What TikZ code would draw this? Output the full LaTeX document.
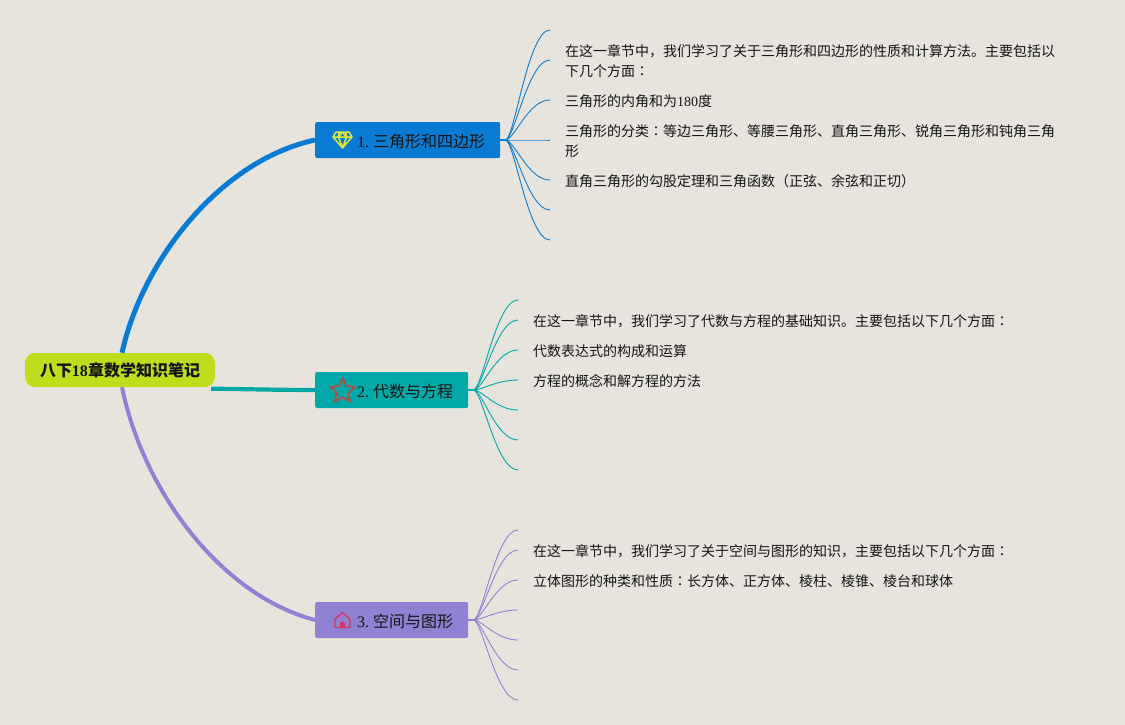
\documentclass[tikz,border=0pt]{standalone}
\usepackage{fontspec}
\setmainfont{Noto Sans CJK SC}
\newfontfamily\latn{Liberation Serif}
\newfontfamily\jpcolon{Noto Sans CJK JP}
\newcommand{\midcolon}{{\jpcolon ：}}
\usetikzlibrary{positioning,shapes.geometric}

\definecolor{paper}{HTML}{E7E4DD}
\definecolor{rootgreen}{HTML}{C0DD1B}
\definecolor{blueA}{HTML}{0A7BD2}
\definecolor{tealB}{HTML}{00A8A8}
\definecolor{purpleC}{HTML}{9181D3}
\definecolor{gemyellow}{HTML}{E4E83A}
\definecolor{starbrown}{HTML}{A8524A}
\definecolor{housepink}{HTML}{D8305F}

\begin{document}
\begin{tikzpicture}[x=1pt,y=-1pt]
  \tikzstyle{every node}=[text=black!92]
  \tikzstyle{rootbox}=[fill=rootgreen,rounded corners=10pt,minimum width=190pt,
                       minimum height=34pt,inner sep=0pt,font=\fontsize{16}{16}\selectfont\bfseries]
  \tikzstyle{topic}=[rounded corners=2pt,minimum height=36pt,inner sep=0pt,text height=14pt,
                     text depth=0pt,anchor=west,font=\fontsize{16}{16}\selectfont]
  \tikzstyle{leaf}=[inner sep=0pt,yshift=-1pt,align=left,font=\fontsize{14}{20.5}\selectfont]
  \tikzstyle{branch}=[line width=.9pt,to path={.. controls +(9,0) and +(-22,0) .. (\tikztotarget)}]
  \tikzstyle{stub}=[line width=2.4pt]

  \fill[paper] (0,0) rectangle (1125,725);
  \useasboundingbox (0,0) rectangle (1125,725);

  \node[rootbox] (root) at (120,370) {八下{\latn 18}章数学知识笔记};

  \node[topic,fill=blueA] (topicA) at (315,140) {\hspace*{42pt}{\latn 1.\ }三角形和四边形\hspace*{15pt}};
  \node[topic,fill=tealB] (topicB) at (315,390) {\hspace*{42pt}{\latn 2.\ }代数与方程\hspace*{15pt}};
  \node[topic,fill=purpleC] (topicC) at (315,620) {\hspace*{42pt}{\latn 3.\ }空间与图形\hspace*{15pt}};

  % big limbs
  \draw[blueA,line width=5pt] ([xshift=2pt]root.north) .. controls (143,258) and (222,160) .. (topicA.west);
  \draw[tealB,line width=4.2pt] ([xshift=-4pt,yshift=-1.5pt]root.south east) .. controls (240,389) and (280,390) .. (topicB.west);
  \draw[purpleC,line width=4pt] ([xshift=2pt]root.south) .. controls (143,490) and (220,595) .. (topicC.west);

  % icons
  \draw[line width=1.5pt,draw=gemyellow,line join=round]
    (336,132) -- (349,132) -- (352,137) -- (342.5,148) -- (333,137) -- cycle
    (333,137) -- (352,137) (338.5,137) -- (342.5,148) -- (346.5,137)
    (339,132) -- (338.5,137) -- (342.5,132) -- (346.5,137) -- (346,132);
  \node[star,star points=5,star point ratio=2.1,draw=starbrown,line width=1.9pt,line join=round,
        minimum size=26pt,inner sep=0pt] (starB) at (342.5,391) {};
  \draw[line width=1.3pt,draw=housepink,line join=round]
    (335,627.5) -- (335,619) -- (342.5,612.5) -- (350,619) -- (350,627.5) -- cycle;
  \fill[housepink] (340,628) -- (340,624) arc[start angle=180,end angle=0,radius=2.5pt] -- (345,628) -- cycle;

  % leaves of topic A
  \coordinate (forkA) at ([xshift=5pt]topicA.east);
  \coordinate (leafA1) at (550,30);
  \coordinate (leafA2) at (550,60);
  \coordinate (leafA3) at (550,100);
  \coordinate (leafA4) at (550,140);
  \coordinate (leafA5) at (550,180);
  \coordinate (leafA6) at (550,210);
  \coordinate (leafA7) at (550,240);
  \node[leaf,right=15pt of leafA2] (textA2) {在这一章节中，我们学习了关于三角形和四边形的性质和计算方法。主要包括以\\下几个方面\midcolon};
  \node[leaf,right=15pt of leafA3] (textA3) {三角形的内角和为{\latn 180}度};
  \node[leaf,right=15pt of leafA4] (textA4) {三角形的分类\midcolon 等边三角形、等腰三角形、直角三角形、锐角三角形和钝角三角\\形};
  \node[leaf,right=15pt of leafA5] (textA5) {直角三角形的勾股定理和三角函数（正弦、余弦和正切）};
  \draw[blueA,stub] (topicA.east) -- (forkA);
  \path[draw=blueA,branch] (forkA) edge (leafA1) edge (leafA2) edge (leafA3) edge (leafA4)
            edge (leafA5) edge (leafA6) edge (leafA7);

  % leaves of topic B
  \coordinate (forkB) at ([xshift=5pt]topicB.east);
  \coordinate (leafB1) at (518,300);
  \coordinate (leafB2) at (518,320);
  \coordinate (leafB3) at (518,350);
  \coordinate (leafB4) at (518,380);
  \coordinate (leafB5) at (518,410);
  \coordinate (leafB6) at (518,440);
  \coordinate (leafB7) at (518,470);
  \node[leaf,right=15pt of leafB2] (textB2) {在这一章节中，我们学习了代数与方程的基础知识。主要包括以下几个方面\midcolon};
  \node[leaf,right=15pt of leafB3] (textB3) {代数表达式的构成和运算};
  \node[leaf,right=15pt of leafB4] (textB4) {方程的概念和解方程的方法};
  \draw[tealB,stub] (topicB.east) -- (forkB);
  \path[draw=tealB,branch] (forkB) edge (leafB1) edge (leafB2) edge (leafB3) edge (leafB4)
            edge (leafB5) edge (leafB6) edge (leafB7);

  % leaves of topic C
  \coordinate (forkC) at ([xshift=5pt]topicC.east);
  \coordinate (leafC1) at (518,530);
  \coordinate (leafC2) at (518,550);
  \coordinate (leafC3) at (518,580);
  \coordinate (leafC4) at (518,610);
  \coordinate (leafC5) at (518,640);
  \coordinate (leafC6) at (518,670);
  \coordinate (leafC7) at (518,700);
  \node[leaf,right=15pt of leafC2] (textC2) {在这一章节中，我们学习了关于空间与图形的知识，主要包括以下几个方面\midcolon};
  \node[leaf,right=15pt of leafC3] (textC3) {立体图形的种类和性质\midcolon 长方体、正方体、棱柱、棱锥、棱台和球体};
  \draw[purpleC,stub] (topicC.east) -- (forkC);
  \path[draw=purpleC,branch] (forkC) edge (leafC1) edge (leafC2) edge (leafC3) edge (leafC4)
            edge (leafC5) edge (leafC6) edge (leafC7);
\end{tikzpicture}
\end{document}
